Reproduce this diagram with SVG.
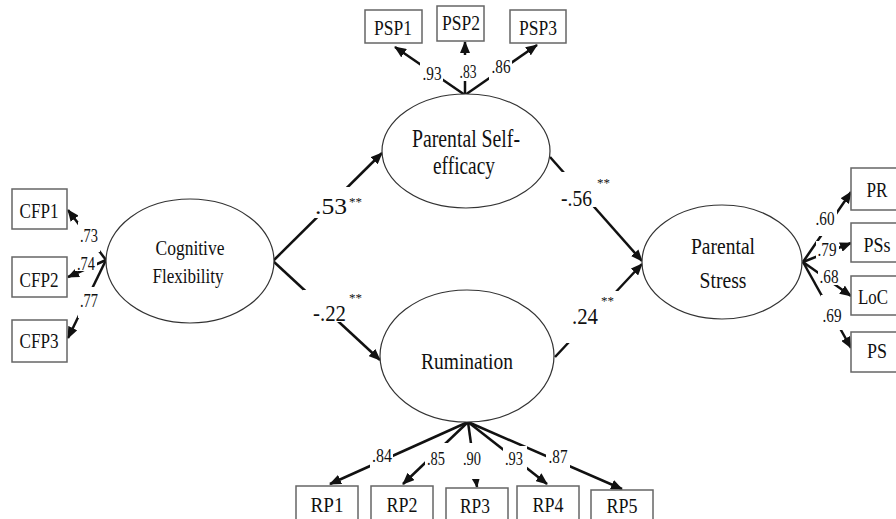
<svg xmlns="http://www.w3.org/2000/svg" width="896" height="519" viewBox="0 0 896 519" font-family="'Liberation Serif', 'Times New Roman', serif">
<defs>
<style>
.box{fill:#fff;stroke:#666;stroke-width:1.5}
.ell{fill:#fff;stroke:#333;stroke-width:1.2}
.ln{stroke:#111;stroke-width:2.5;fill:none;marker-end:url(#ah)}
.bg{fill:#fff}
text{font-family:'Liberation Serif','Times New Roman',serif;fill:#111}
.bt{font-size:22px;text-anchor:middle}
.et{font-size:22px;text-anchor:middle}
.ld{font-size:18px;text-anchor:middle}
.cf{font-size:24px}
.st{font-size:13px}
</style>
<marker id="ah" markerWidth="12" markerHeight="10" refX="11" refY="5" orient="auto" markerUnits="userSpaceOnUse"><path d="M0,0 L12,5 L0,10 z" fill="#111"/></marker>
</defs>
<rect width="896" height="519" fill="#fff"/>

<g id="connectors">
<path class="ln" d="M273,261 L382,153"/>
<path class="ln" d="M273,261 L380,360"/>
<path class="ln" d="M550,157 L642,261"/>
<path class="ln" d="M555,357 L642,264"/>
<path class="ln" d="M106,260 L68,210"/>
<path class="ln" d="M106,260 L68,277"/>
<path class="ln" d="M106,260 L68,338"/>
<path class="ln" d="M465,95 L395,47"/>
<path class="ln" d="M465,95 L465,42"/>
<path class="ln" d="M465,95 L537,45"/>
<path class="ln" d="M803,262 L851,192"/>
<path class="ln" d="M803,262 L851,243"/>
<path class="ln" d="M803,262 L851,296"/>
<path class="ln" d="M803,262 L851,348"/>
<path class="ln" d="M468,422 L330,484"/>
<path class="ln" d="M468,422 L403,484"/>
<path class="ln" d="M468,422 L477,487"/>
<path class="ln" d="M468,422 L547,484"/>
<path class="ln" d="M468,422 L622,489"/>
</g>

<g id="labels">
<rect class="bg" x="302" y="187" width="63" height="31"/>
<text class="cf" x="315" y="214" textLength="32" lengthAdjust="spacingAndGlyphs">.53</text>
<text class="st" x="349" y="206">**</text>
<rect class="bg" x="303" y="290" width="65" height="32"/>
<text class="cf" x="313" y="321" textLength="33" lengthAdjust="spacingAndGlyphs">-.22</text>
<text class="st" x="349" y="302">**</text>
<rect class="bg" x="553" y="172" width="62" height="35"/>
<text class="cf" x="561" y="206" textLength="31" lengthAdjust="spacingAndGlyphs">-.56</text>
<text class="st" x="597" y="187">**</text>
<rect class="bg" x="566" y="291" width="57" height="52"/>
<text class="cf" x="572" y="324" textLength="26" lengthAdjust="spacingAndGlyphs">.24</text>
<text class="st" x="601" y="305">**</text>

<rect class="bg" x="78" y="222" width="22" height="30"/>
<text class="ld" x="89" y="242" textLength="18" lengthAdjust="spacingAndGlyphs">.73</text>
<rect class="bg" x="75" y="255" width="22" height="16"/>
<text class="ld" x="86" y="270" textLength="18" lengthAdjust="spacingAndGlyphs">.74</text>
<rect class="bg" x="78" y="287" width="22" height="31"/>
<text class="ld" x="89" y="307" textLength="18" lengthAdjust="spacingAndGlyphs">.77</text>

<rect class="bg" x="420" y="62" width="23" height="19"/>
<text class="ld" x="432" y="80" textLength="19" lengthAdjust="spacingAndGlyphs">.93</text>
<rect class="bg" x="456" y="55" width="23" height="26"/>
<text class="ld" x="468" y="78" textLength="17" lengthAdjust="spacingAndGlyphs">.83</text>
<rect class="bg" x="489" y="57" width="23" height="23"/>
<text class="ld" x="501" y="73" textLength="19" lengthAdjust="spacingAndGlyphs">.86</text>

<rect class="bg" x="814" y="209" width="23" height="27"/>
<text class="ld" x="825" y="225" textLength="19" lengthAdjust="spacingAndGlyphs">.60</text>
<rect class="bg" x="816" y="241" width="23" height="17"/>
<text class="ld" x="827" y="256" textLength="19" lengthAdjust="spacingAndGlyphs">.79</text>
<rect class="bg" x="818" y="266" width="23" height="19"/>
<text class="ld" x="829" y="283" textLength="19" lengthAdjust="spacingAndGlyphs">.68</text>
<rect class="bg" x="821" y="295" width="23" height="35"/>
<text class="ld" x="832" y="322" textLength="19" lengthAdjust="spacingAndGlyphs">.69</text>

<rect class="bg" x="370" y="446" width="23" height="22"/>
<text class="ld" x="382" y="462" textLength="20" lengthAdjust="spacingAndGlyphs">.84</text>
<rect class="bg" x="425" y="443" width="23" height="23"/>
<text class="ld" x="436" y="465" textLength="18" lengthAdjust="spacingAndGlyphs">.85</text>
<rect class="bg" x="461" y="443" width="22" height="36"/>
<text class="ld" x="472" y="465" textLength="18" lengthAdjust="spacingAndGlyphs">.90</text>
<rect class="bg" x="503" y="446" width="24" height="24"/>
<text class="ld" x="514" y="465" textLength="18" lengthAdjust="spacingAndGlyphs">.93</text>
<rect class="bg" x="546" y="446" width="24" height="22"/>
<text class="ld" x="558" y="463" textLength="19" lengthAdjust="spacingAndGlyphs">.87</text>
</g>

<g id="cognitive-flexibility">
<ellipse class="ell" cx="190" cy="261" rx="84" ry="62"/>
<text class="et" x="190" y="255" textLength="69" lengthAdjust="spacingAndGlyphs" style="font-size:21px">Cognitive</text>
<text class="et" x="188" y="283" textLength="71" lengthAdjust="spacingAndGlyphs" style="font-size:21px">Flexibility</text>
</g>
<g id="parental-self-efficacy">
<ellipse class="ell" cx="466" cy="151" rx="84" ry="57"/>
<text class="et" x="466" y="147" textLength="108" lengthAdjust="spacingAndGlyphs" style="font-size:25px">Parental Self-</text>
<text class="et" x="464" y="174" textLength="62" lengthAdjust="spacingAndGlyphs" style="font-size:25px">efficacy</text>
</g>
<g id="rumination">
<ellipse class="ell" cx="467" cy="356" rx="87" ry="66"/>
<text class="et" x="467" y="369" textLength="92" lengthAdjust="spacingAndGlyphs" style="font-size:24px">Rumination</text>
</g>
<g id="parental-stress">
<ellipse class="ell" cx="722" cy="262" rx="80" ry="57"/>
<text class="et" x="723" y="254" textLength="64" lengthAdjust="spacingAndGlyphs" style="font-size:23px">Parental</text>
<text class="et" x="723" y="288" textLength="47" lengthAdjust="spacingAndGlyphs" style="font-size:23px">Stress</text>
</g>

<g id="CFP1"><rect class="box" x="12" y="189" width="55" height="40"/><text class="bt" x="39" y="218" textLength="39" lengthAdjust="spacingAndGlyphs">CFP1</text></g>
<g id="CFP2"><rect class="box" x="12" y="257" width="55" height="40"/><text class="bt" x="39" y="287" textLength="39" lengthAdjust="spacingAndGlyphs">CFP2</text></g>
<g id="CFP3"><rect class="box" x="12" y="320" width="55" height="42"/><text class="bt" x="39" y="348" textLength="39" lengthAdjust="spacingAndGlyphs">CFP3</text></g>

<g id="PSP1"><rect class="box" x="365" y="10" width="57" height="33"/><text class="bt" x="393" y="35" textLength="38" lengthAdjust="spacingAndGlyphs">PSP1</text></g>
<g id="PSP2"><rect class="box" x="437" y="6" width="47" height="35"/><text class="bt" x="461" y="30" textLength="38" lengthAdjust="spacingAndGlyphs">PSP2</text></g>
<g id="PSP3"><rect class="box" x="510" y="10" width="56" height="33"/><text class="bt" x="538" y="35" textLength="38" lengthAdjust="spacingAndGlyphs">PSP3</text></g>

<g id="PR"><rect class="box" x="851" y="168" width="56" height="42"/><text class="bt" x="877" y="197" textLength="21" lengthAdjust="spacingAndGlyphs">PR</text></g>
<g id="PSs"><rect class="box" x="851" y="223" width="56" height="39"/><text class="bt" x="877" y="252" textLength="27" lengthAdjust="spacingAndGlyphs">PSs</text></g>
<g id="LoC"><rect class="box" x="851" y="276" width="56" height="39"/><text class="bt" x="873" y="304" textLength="30" lengthAdjust="spacingAndGlyphs">LoC</text></g>
<g id="PS"><rect class="box" x="851" y="332" width="56" height="40"/><text class="bt" x="877" y="358" textLength="20" lengthAdjust="spacingAndGlyphs">PS</text></g>

<g id="RP1"><rect class="box" x="296" y="486" width="62" height="38"/><text class="bt" x="327" y="512" textLength="33" lengthAdjust="spacingAndGlyphs">RP1</text></g>
<g id="RP2"><rect class="box" x="371" y="486" width="62" height="38"/><text class="bt" x="402" y="512" textLength="31" lengthAdjust="spacingAndGlyphs">RP2</text></g>
<g id="RP3"><rect class="box" x="446" y="488" width="62" height="38"/><text class="bt" x="475" y="513" textLength="30" lengthAdjust="spacingAndGlyphs">RP3</text></g>
<g id="RP4"><rect class="box" x="517" y="486" width="62" height="38"/><text class="bt" x="548" y="512" textLength="31" lengthAdjust="spacingAndGlyphs">RP4</text></g>
<g id="RP5"><rect class="box" x="591" y="490" width="62" height="38"/><text class="bt" x="622" y="513" textLength="31" lengthAdjust="spacingAndGlyphs">RP5</text></g>
</svg>
